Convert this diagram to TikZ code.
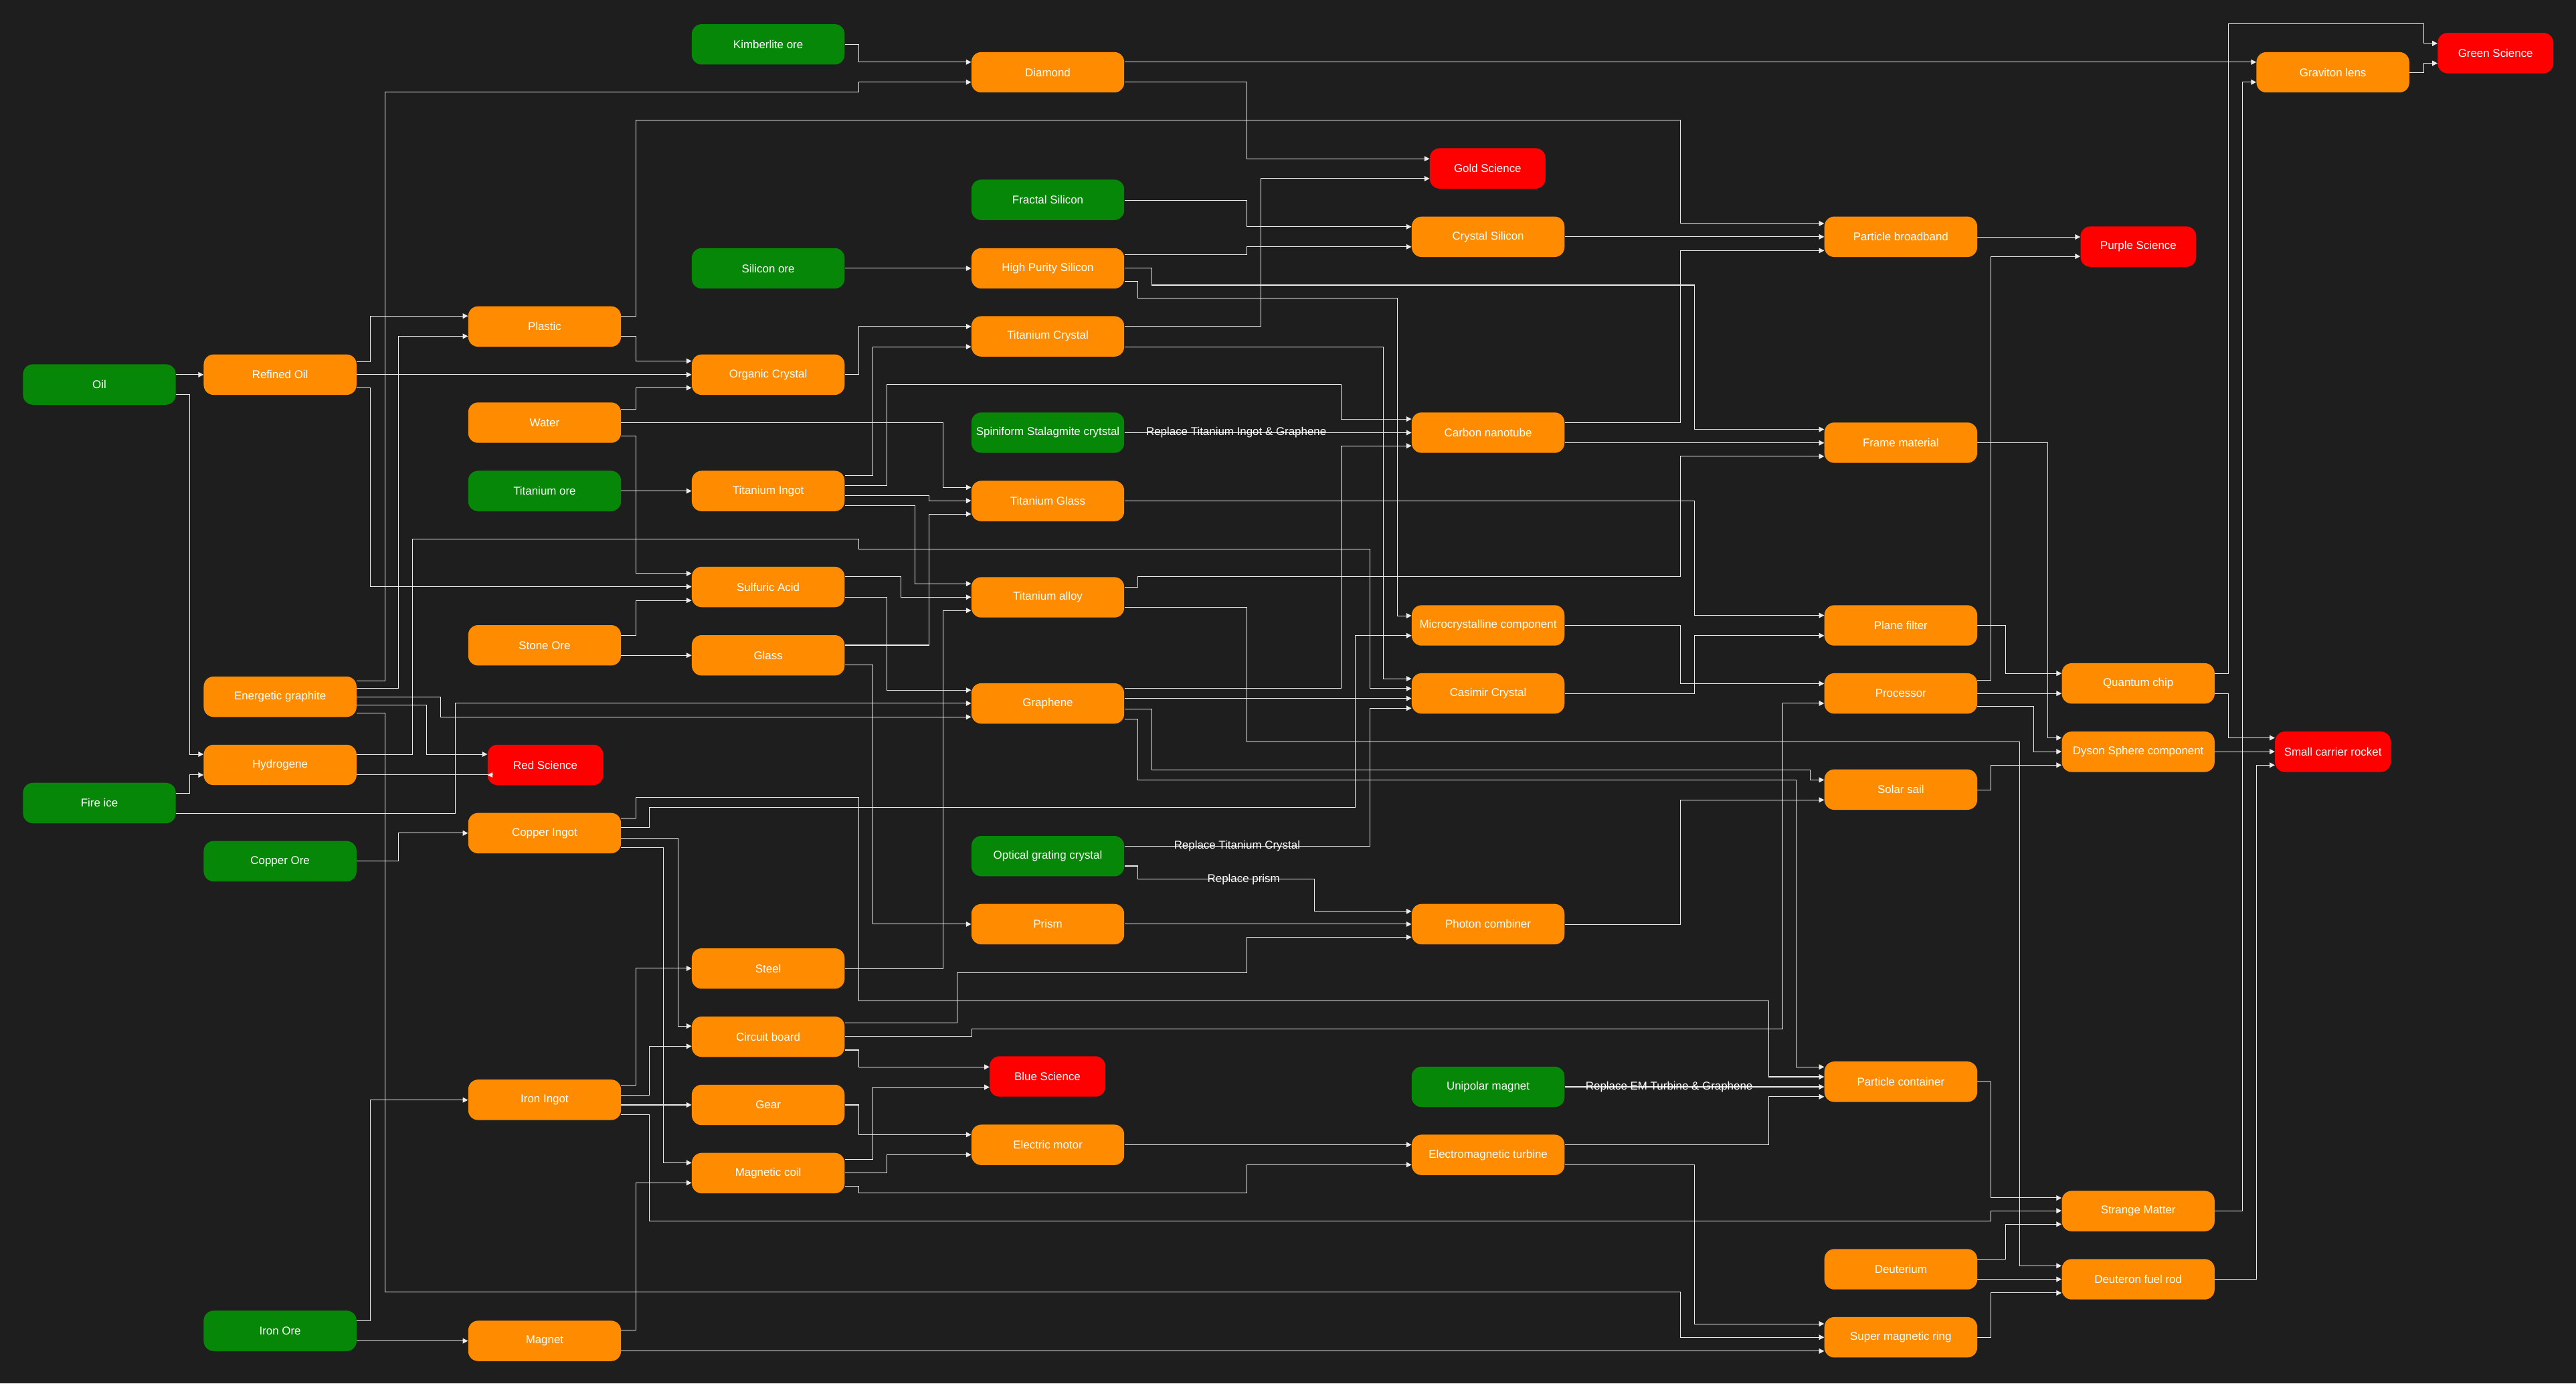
\documentclass[tikz,border=0pt]{standalone}
\usepackage{fontspec}
\setmainfont{Liberation Sans}
\usetikzlibrary{arrows.meta}
\definecolor{bg}{HTML}{1E1E1E}
\definecolor{cgreen}{HTML}{078707}
\definecolor{corange}{HTML}{FF8C00}
\definecolor{cred}{HTML}{FF0000}
\tikzset{
  box/.style={rounded corners=0.3cm, minimum width=4.65cm, minimum height=1.23cm, inner sep=0pt,
    text=white, font=\fontsize{9.8}{11}\selectfont},
  gbox/.style={box, fill=cgreen},
  obox/.style={box, fill=corange},
  rbox/.style={box, fill=cred, minimum width=3.52cm},
  arr/.style={draw=white!92!black, line width=0.6pt, -{Triangle[length=4.5pt,width=4.5pt]}},
  lbl/.style={text=white, font=\fontsize{9.8}{11}\selectfont, inner sep=1pt}
}
\newcommand\ed[5]{\draw[arr] (#1.east |- 0,#2) -| (#3,#5) -- (#4.west |- 0,#5);}
\begin{document}
\begin{tikzpicture}[x=0.05cm,y=-0.05cm]
\fill[bg] (0,0) rectangle (1568,842);
\useasboundingbox (0,0) rectangle (1568,842);
% green
\node[gbox] (kim) at (467.6,27) {Kimberlite ore};
\node[gbox] (fra) at (637.8,121.6) {Fractal Silicon};
\node[gbox] (sio) at (467.6,163.3) {Silicon ore};
\node[gbox] (oil) at (60.5,234) {Oil};
\node[gbox] (tio) at (331.5,298.8) {Titanium ore};
\node[gbox] (spi) at (637.8,263.3) {Spiniform Stalagmite crytstal};
\node[gbox] (fir) at (60.5,488.7) {Fire ice};
\node[gbox] (coo) at (170.5,524.1) {Copper Ore};
\node[gbox] (opt) at (637.8,521) {Optical grating crystal};
\node[gbox] (uni) at (905.8,661.4) {Unipolar magnet};
\node[gbox] (iro) at (170.5,809.9) {Iron Ore};
% orange
\node[obox] (dia) at (637.8,44) {Diamond};
\node[obox] (rol) at (170.5,228) {Refined Oil};
\node[obox] (pla) at (331.5,198.7) {Plastic};
\node[obox] (oc) at (467.6,228) {Organic Crystal};
\node[obox] (hps) at (637.8,163.3) {High Purity Silicon};
\node[obox] (tcr) at (637.8,204.7) {Titanium Crystal};
\node[obox] (wat) at (331.5,257.2) {Water};
\node[obox] (tin) at (467.6,298.8) {Titanium Ingot};
\node[obox] (tgl) at (637.8,304.9) {Titanium Glass};
\node[obox] (sul) at (467.6,357.2) {Sulfuric Acid};
\node[obox] (tal) at (637.8,363.5) {Titanium alloy};
\node[obox] (sto) at (331.5,392.7) {Stone Ore};
\node[obox] (gla) at (467.6,398.8) {Glass};
\node[obox] (eg) at (170.5,424) {Energetic graphite};
\node[obox] (gra) at (637.8,428.1) {Graphene};
\node[obox] (hyd) at (170.5,465.5) {Hydrogene};
\node[obox] (cin) at (331.5,507) {Copper Ingot};
\node[obox] (pri) at (637.8,562.4) {Prism};
\node[obox] (ste) at (467.6,589.4) {Steel};
\node[obox] (cb) at (467.6,630.9) {Circuit board};
\node[obox] (iin) at (331.5,669.3) {Iron Ingot};
\node[obox] (gea) at (467.6,672.4) {Gear};
\node[obox] (mc) at (467.6,713.9) {Magnetic coil};
\node[obox] (emo) at (637.8,696.7) {Electric motor};
\node[obox] (mag) at (331.5,816) {Magnet};
\node[obox] (csi) at (905.8,144.1) {Crystal Silicon};
\node[obox] (cnt) at (905.8,263.3) {Carbon nanotube};
\node[obox] (mic) at (905.8,380.6) {Microcrystalline component};
\node[obox] (cas) at (905.8,422) {Casimir Crystal};
\node[obox] (pho) at (905.8,562.4) {Photon combiner};
\node[obox] (emt) at (905.8,702.8) {Electromagnetic turbine};
\node[obox] (pb) at (1157,144.1) {Particle broadband};
\node[obox] (frm) at (1157,269.4) {Frame material};
\node[obox] (pf) at (1157,380.6) {Plane filter};
\node[obox] (pro) at (1157,422) {Processor};
\node[obox] (ss) at (1157,480.5) {Solar sail};
\node[obox] (pc) at (1157,658.3) {Particle container};
\node[obox] (deu) at (1157,772.4) {Deuterium};
\node[obox] (smr) at (1157,813.8) {Super magnetic ring};
\node[obox] (gl) at (1420,44) {Graviton lens};
\node[obox] (qc) at (1301.5,415.9) {Quantum chip};
\node[obox] (dsc) at (1301.5,457.5) {Dyson Sphere component};
\node[obox] (sm) at (1301.5,737) {Strange Matter};
\node[obox] (dfr) at (1301.5,778.5) {Deuteron fuel rod};
% red
\node[rbox] (gold) at (905.5,102.5) {Gold Science};
\node[rbox] (pur) at (1301.6,150.1) {Purple Science};
\node[rbox] (grn) at (1519,32.3) {Green Science};
\node[rbox] (red) at (332,465.5) {Red Science};
\node[rbox] (scr) at (1420,457.5) {Small carrier rocket};
\node[rbox] (blue) at (637.6,655.1) {Blue Science};
% edges
\ed{oil}{228}{115}{rol}{228}
\ed{oil}{240}{115.6}{hyd}{459}
\ed{fir}{482.7}{115.6}{hyd}{471.6}
\ed{rol}{220}{225.5}{pla}{192.3}
\ed{rol}{228}{300}{oc}{228}
\ed{rol}{236}{225.5}{sul}{357}
\draw[arr] (eg.east |- 0,414.3) -| (234.3,56) -| (522.6,50) -- (dia.west |- 0,50);
\ed{kim}{27}{522.6}{dia}{37.8}
\ed{eg}{419}{242.6}{pla}{204.6}
\ed{eg}{424}{268.3}{gra}{436.3}
\ed{eg}{429}{259.8}{red}{459}
\draw[arr] (eg.east |- 0,433.8) -| (234.3,786.4) -| (1023,813.8) -- (smr.west |- 0,813.8);
\draw[arr] (hyd.east |- 0,459) -| (251,328) -| (522.6,334) -| (833.7,419) -- (cas.west |- 0,419);
\ed{hyd}{471.6}{300}{red}{471.6}
\ed{fir}{494.9}{277.2}{gra}{428}
\ed{pla}{204.6}{387}{oc}{219.7}
\draw[arr] (pla.east |- 0,192.3) -| (387,73.3) -| (1023,136) -- (pb.west |- 0,136);
\ed{wat}{249}{387}{oc}{236}
\ed{wat}{257.2}{574}{tgl}{296.6}
\ed{wat}{265.5}{387}{sul}{349}
\ed{sto}{386.6}{387}{sul}{365.4}
\ed{sto}{398.8}{400}{gla}{398.8}
\ed{tio}{298.8}{400}{tin}{298.8}
\ed{sio}{163.3}{550}{hps}{163.3}
\ed{oc}{228}{522.6}{tcr}{198.7}
\ed{tin}{289.5}{531.4}{tcr}{211}
\draw[arr] (tin.east |- 0,295.6) -| (540,234) -| (816.5,255) -- (cnt.west |- 0,255);
\ed{tin}{301.6}{565.4}{tgl}{304.7}
\ed{tin}{307.8}{556.9}{tal}{355.2}
\ed{gla}{392.6}{565.4}{tgl}{312.8}
\ed{gla}{404.7}{531.4}{pri}{562.4}
\ed{sul}{351}{548.5}{tal}{363.4}
\ed{sul}{363.4}{540}{gra}{420}
\ed{ste}{589.5}{574}{tal}{371.5}
\ed{dia}{50}{759}{gold}{96.6}
\ed{dia}{37.8}{1000}{gl}{37.8}
\ed{tcr}{198.7}{767.4}{gold}{108.7}
\ed{tcr}{211}{842}{cas}{413}
\ed{fra}{121.8}{759}{csi}{138}
\ed{hps}{155}{759}{csi}{150.2}
\draw[arr] (hps.east |- 0,163.3) -| (701,173.5) -| (1031.5,261.3) -- (frm.west |- 0,261.3);
\draw[arr] (hps.east |- 0,171.3) -| (692.7,181.5) -| (850.5,374.7) -- (mic.west |- 0,374.7);
\ed{spi}{263.3}{780}{cnt}{263.3}
\ed{gra}{419}{816.5}{cnt}{271.3}
\ed{gra}{425}{800}{cas}{425}
\draw[arr] (gra.east |- 0,431.4) -| (701.3,468.4) -| (1102,474.6) -- (ss.west |- 0,474.6);
\draw[arr] (gra.east |- 0,437.5) -| (692.7,474.6) -| (1093.5,649.3) -- (pc.west |- 0,649.3);
\ed{opt}{515}{833.7}{cas}{431}
\draw[arr] (opt.east |- 0,527) -| (692.7,535) -| (800,554.6) -- (pho.west |- 0,554.6);
\ed{pri}{562.4}{800}{pho}{562.4}
\draw[arr] (cb.east |- 0,622.6) -| (582.5,592) -| (759,570.3) -- (pho.west |- 0,570.3);
\draw[arr] (cin.east |- 0,497.7) -| (387,485.4) -| (522.6,609) -| (1076.6,655.3) -- (pc.west |- 0,655.3);
\draw[arr] (cin.east |- 0,503.7) -| (395.4,491.3) -| (825,386.8) -- (mic.west |- 0,386.8);
\ed{cin}{510}{412.7}{cb}{624.4}
\ed{cin}{516}{404}{mc}{707.6}
\ed{coo}{524.1}{242.6}{cin}{507}
\ed{iro}{803.7}{225.5}{iin}{669.4}
\ed{iro}{816}{250}{mag}{816}
\ed{iin}{660.3}{387}{ste}{589.3}
\ed{iin}{666.3}{395.4}{cb}{636.7}
\ed{iin}{672.4}{400}{gea}{672.4}
\draw[arr] (iin.east |- 0,678.4) -| (395.4,743) -| (1212,736.8) -- (sm.west |- 0,736.8);
\ed{mag}{809.5}{387}{mc}{719.8}
\ed{mag}{822.2}{800}{smr}{822.2}
\draw[arr] (cb.east |- 0,630.8) -| (591.4,626) -| (1085,428) -- (pro.west |- 0,428);
\ed{cb}{639}{522.6}{blue}{649.3}
\ed{mc}{705.5}{531.4}{blue}{661.6}
\ed{mc}{713.8}{540}{emo}{702.7}
\draw[arr] (mc.east |- 0,722) -| (522.6,725.8) -| (759,708.8) -- (emt.west |- 0,708.8);
\ed{gea}{672.4}{522.6}{emo}{690.5}
\ed{emo}{696.6}{780}{emt}{696.6}
\ed{emt}{696.6}{1076.6}{pc}{667.4}
\ed{emt}{708.8}{1031.5}{smr}{805.6}
\ed{uni}{661.4}{1000}{pc}{661.4}
\ed{pho}{562.6}{1023}{ss}{486.8}
\ed{csi}{144.1}{1000}{pb}{144.1}
\ed{cnt}{257.3}{1023}{pb}{152.5}
\ed{cnt}{269.5}{1000}{frm}{269.5}
\draw[arr] (tal.east |- 0,357.2) -| (692.7,351) -| (1023,277.7) -- (frm.west |- 0,277.7);
\draw[arr] (tal.east |- 0,369.6) -| (759,451.4) -| (1229.2,770.3) -- (dfr.west |- 0,770.3);
\ed{tgl}{304.7}{1031.5}{pf}{374.5}
\ed{cas}{422}{1031.5}{pf}{386.8}
\ed{mic}{380.7}{1023}{pro}{416}
\ed{pb}{144.2}{1230}{pur}{144.2}
\ed{pro}{413.9}{1212}{pur}{156}
\ed{pf}{380.7}{1220.6}{qc}{409.8}
\ed{pro}{422}{1230}{qc}{422}
\ed{pro}{430}{1237.8}{dsc}{457.4}
\ed{frm}{269.5}{1246.6}{dsc}{449}
\ed{ss}{480.7}{1212}{dsc}{465.6}
\draw[arr] (qc.east |- 0,409.8) -| (1356.3,14.5) -| (1475.2,26.4) -- (grn.west |- 0,26.4);
\ed{qc}{422}{1356.3}{scr}{449}
\ed{dsc}{457.4}{1370}{scr}{457.4}
\ed{dfr}{778.5}{1373.6}{scr}{465.6}
\ed{sm}{736.8}{1365}{gl}{50}
\ed{gl}{44}{1475.2}{grn}{38.5}
\ed{pc}{658.3}{1212}{sm}{729}
\ed{deu}{766.3}{1220.6}{sm}{745}
\ed{deu}{778.5}{1230}{dfr}{778.5}
\ed{smr}{813.8}{1212}{dfr}{786.8}
% labels
\node[lbl] (l1) at (752.5,263.3) {Replace Titanium Ingot \& Graphene};
\node[lbl] (l2) at (753,515) {Replace Titanium Crystal};
\node[lbl] (l3) at (757,535) {Replace prism};
\node[lbl] (l4) at (1016,661.4) {Replace EM Turbine \& Graphene};
\end{tikzpicture}
\end{document}
